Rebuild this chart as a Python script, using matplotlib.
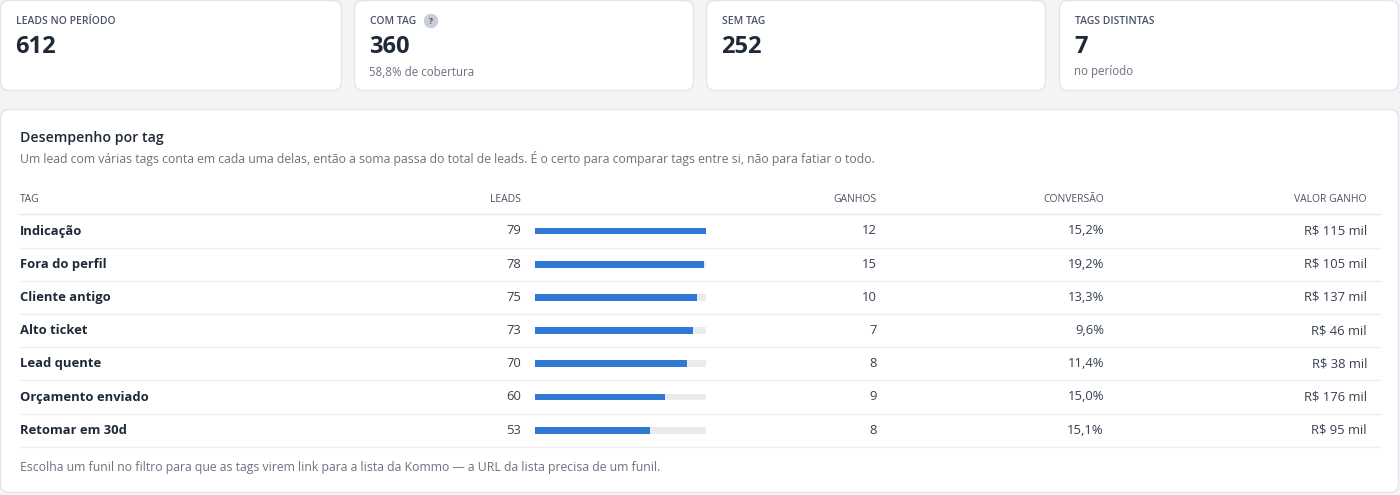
import matplotlib
matplotlib.use("Agg")
import matplotlib.pyplot as plt
from matplotlib.patches import FancyBboxPatch, Circle

plt.rcParams['font.family'] = ['Open Sans', 'DejaVu Sans']

card_titles = ["LEADS NO PERÍODO", "COM TAG", "SEM TAG", "TAGS DISTINTAS"]
card_values = ["612", "360", "252", "7"]
card_subs = ["", "58,8% de cobertura", "", "no período"]

tags = ["Indicação", "Fora do perfil", "Cliente antigo", "Alto ticket", "Lead quente",
        "Orçamento enviado", "Retomar em 30d"]
leads = [79, 78, 75, 73, 70, 60, 53]
ganhos = [12, 15, 10, 7, 8, 9, 8]
conversao = ["15,2%", "19,2%", "13,3%", "9,6%", "11,4%", "15,0%", "15,1%"]
valor = ["R$ 115 mil", "R$ 105 mil", "R$ 137 mil", "R$ 46 mil", "R$ 38 mil", "R$ 176 mil", "R$ 95 mil"]
headers = ["TAG", "LEADS", "GANHOS", "CONVERSÃO", "VALOR GANHO"]

W, H = 1400, 495
fig = plt.figure(figsize=(W/100, H/100), dpi=100, facecolor="#f3f4f6")
ax = fig.add_axes([0, 0, 1, 1])
ax.set_xlim(0, W); ax.set_ylim(H, 0); ax.axis("off")

def card(x0, y0, x1, y1):
    ax.add_patch(FancyBboxPatch((x0+0.5, y0+0.5), x1-x0-1, y1-y0-1,
                 boxstyle="round,pad=0,rounding_size=9", fc="white", ec="#e3e6ea", lw=1))

dark = "#1f2937"; gray = "#6b7280"
xs = [(0, 342), (354, 694), (706, 1046), (1059, 1399)]
for (x0, x1), t, v, s in zip(xs, card_titles, card_values, card_subs):
    card(x0, 0, x1, 91)
    ax.text(x0+16, 21, t, fontsize=7.5, color="#4b5563", va="center", fontweight="semibold")
    ax.text(x0+15, 47, v, fontsize=17, color=dark, va="center", fontweight="bold")
    if s:
        ax.text(x0+15, 72, s, fontsize=8.3, color=gray, va="center")
ax.add_patch(Circle((431, 21), 6.5, color="#c9ced6"))
ax.text(431, 21.5, "?", fontsize=6, color="#4b5563", ha="center", va="center", fontweight="bold")

card(0, 109, 1399, 493)
ax.text(20, 138, "Desempenho por tag", fontsize=10.2, color=dark, va="center", fontweight="semibold")
ax.text(20, 159, "Um lead com várias tags conta em cada uma delas, então a soma passa do total de leads. É o certo para comparar tags entre si, não para fatiar o todo.",
        fontsize=8.85, color=gray, va="center")

hx = [(20, "left"), (521, "right"), (877, "right"), (1104, "right"), (1367, "right")]
for (x, ha), h in zip(hx, headers):
    ax.text(x, 199, h, fontsize=7.5, color="#4b5563", ha=ha, va="center", fontweight="medium")
ax.plot([20, 1380], [214, 214], color="#e5e7eb", lw=1)

y0, dy = 231, 33.2
for i, t in enumerate(tags):
    y = y0 + i*dy
    ax.text(20, y, t, fontsize=9.4, color=dark, fontweight="bold", va="center")
    ax.text(521, y, str(leads[i]), fontsize=9.4, color="#374151", ha="right", va="center")
    ax.text(877, y, str(ganhos[i]), fontsize=9.4, color="#374151", ha="right", va="center")
    ax.text(1104, y, conversao[i], fontsize=9.4, color="#374151", ha="right", va="center")
    ax.text(1367, y, valor[i], fontsize=9.4, color="#374151", ha="right", va="center")
    ax.plot([20, 1380], [y+16.5, y+16.5], color="#eceef1", lw=1)

ax.text(20, 467, "Escolha um funil no filtro para que as tags virem link para a lista da Kommo — a URL da lista precisa de um funil.",
        fontsize=8.85, color=gray, va="center")

# bar axes
top = y0 - dy/2; bot = y0 + 6.5*dy
bax = fig.add_axes([535/W, 1-bot/H, (706-535)/W, (bot-top)/H])
bax.set_xlim(0, max(leads)); bax.set_ylim(len(tags)-0.5, -0.5); bax.axis("off")
n = range(len(tags))
bax.barh(n, [max(leads)]*len(tags), height=0.21, color="#e9ebee")
bax.barh(n, leads, height=0.21, color="#2f78d4")

fig.savefig("out.png", dpi=100, facecolor=fig.get_facecolor())
